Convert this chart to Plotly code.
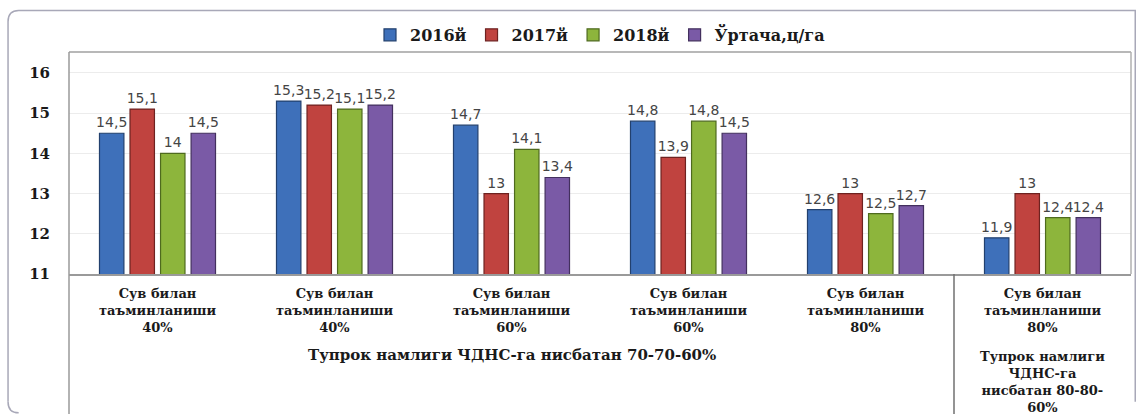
import plotly.graph_objects as go

categories = ["c1", "c2", "c3", "c4", "c5", "c6"]
cat_labels = [
    "Сув билан<br>таъминланиши<br>40%",
    "Сув билан<br>таъминланиши<br>40%",
    "Сув билан<br>таъминланиши<br>60%",
    "Сув билан<br>таъминланиши<br>60%",
    "Сув билан<br>таъминланиши<br>80%",
    "Сув билан<br>таъминланиши<br>80%",
]
series_names = ["2016й", "2017й", "2018й", "Ўртача,ц/га"]
v2016 = [14.5, 15.3, 14.7, 14.8, 12.6, 11.9]
v2017 = [15.1, 15.2, 13.0, 13.9, 13.0, 13.0]
v2018 = [14.0, 15.1, 14.1, 14.8, 12.5, 12.4]
vavg = [14.5, 15.2, 13.4, 14.5, 12.7, 12.4]
y_ticks = [11, 12, 13, 14, 15, 16]
group_label_1 = "Тупрок намлиги ЧДНС-га нисбатан 70-70-60%"
group_label_2 = "Тупрок намлиги<br>ЧДНС-га<br>нисбатан 80-80-<br>60%"

colors = ["#3E70BA", "#C0433F", "#8DB53C", "#7A5AA6"]
edge = ["#22406E", "#6E2220", "#4E6A1E", "#43305E"]
SERIF = "DejaVu Serif"

def fmt(v):
    return ("%g" % v).replace(".", ",")

fig = go.Figure()
for name, vals, c, e in zip(series_names, [v2016, v2017, v2018, vavg], colors, edge):
    fig.add_trace(go.Bar(
        x=categories, y=vals, name="<b>%s</b>" % name,
        marker=dict(color=c, line=dict(color=e, width=1.2)),
        text=[fmt(v) for v in vals], textposition="outside",
        textfont=dict(family="DejaVu Sans", size=14, color="#454545"),
        constraintext="none",
        cliponaxis=False,
    ))

fig.update_layout(
    width=1142, height=414,
    margin=dict(l=69, r=11, t=52, b=140, autoexpand=False),
    paper_bgcolor="white", plot_bgcolor="white",
    barmode="group", bargap=0.31, bargroupgap=0.2,
    showlegend=True,
    legend=dict(orientation="h", x=0.5, xanchor="center", y=1.077, yanchor="middle",
                font=dict(family=SERIF, size=16, color="#1a1a1a"),
                itemwidth=30, tracegroupgap=0, bgcolor="rgba(0,0,0,0)"),
    font=dict(family=SERIF),
)
fig.update_xaxes(
    tickmode="array", tickvals=categories,
    ticktext=["<b>%s</b>" % t for t in cat_labels],
    tickfont=dict(family=SERIF, size=13, color="#1a1a1a"),
    showline=True, linecolor="#9a9a9a", linewidth=1.5, mirror=False,
    ticks="", showgrid=False, automargin=False, ticklabelstandoff=7,
)
fig.update_yaxes(
    range=[11, 16.52], tickvals=y_ticks,
    ticktext=["<b>%d</b>" % v for v in y_ticks],
    tickfont=dict(family=SERIF, size=15, color="#1a1a1a"),
    showgrid=True, gridcolor="#ececec", gridwidth=1,
    showline=False, ticks="", ticklabelstandoff=18,
    zeroline=False, automargin=False,
)

shapes = []
shapes.append(dict(type="line", xref="paper", yref="paper", x0=0, x1=1, y0=1, y1=1,
                   line=dict(color="#a0a0a0", width=1.5)))
shapes.append(dict(type="line", xref="paper", yref="paper", x0=1, x1=1, y0=0, y1=1,
                   line=dict(color="#b0b0b0", width=1.5)))
shapes.append(dict(type="line", xref="paper", yref="paper", x0=0, x1=0, y0=-0.64, y1=1,
                   line=dict(color="#9a9a9a", width=1.5)))
shapes.append(dict(type="line", xref="x", yref="paper", x0=4.5, x1=4.5, y0=-0.64, y1=0,
                   line=dict(color="#707070", width=1.5)))
L, R, T, B = -0.0574, 1.004, 1.187, -0.625
rx, ry = 0.01, 0.05
path = f"M {L},{B+ry} L {L},{T-ry} Q {L},{T} {L+rx},{T} L {R},{T} L {R},{B+ry}"
shapes.append(dict(type="path", xref="paper", yref="paper", path=path,
                   line=dict(color="#a8a8b8", width=1.5)))
path2 = f"M {L},{B+ry} Q {L},{B} {L+rx},{B}"
shapes.append(dict(type="path", xref="paper", yref="paper", path=path2,
                   line=dict(color="#a8a8b8", width=1.5)))
fig.update_layout(shapes=shapes)

fig.add_annotation(xref="paper", yref="paper", x=0.417, y=-0.365, yanchor="middle",
                   text="<b>%s</b>" % group_label_1, showarrow=False,
                   font=dict(family=SERIF, size=15, color="#1a1a1a"))
fig.add_annotation(xref="x", yref="paper", x=5, y=-0.33, yanchor="top",
                   text="<b>%s</b>" % group_label_2, showarrow=False,
                   font=dict(family=SERIF, size=13, color="#1a1a1a"))

fig.write_html("out.html", config={"displayModeBar": False},
               post_script="document.body.style.margin='0';document.body.style.overflow='hidden';")
